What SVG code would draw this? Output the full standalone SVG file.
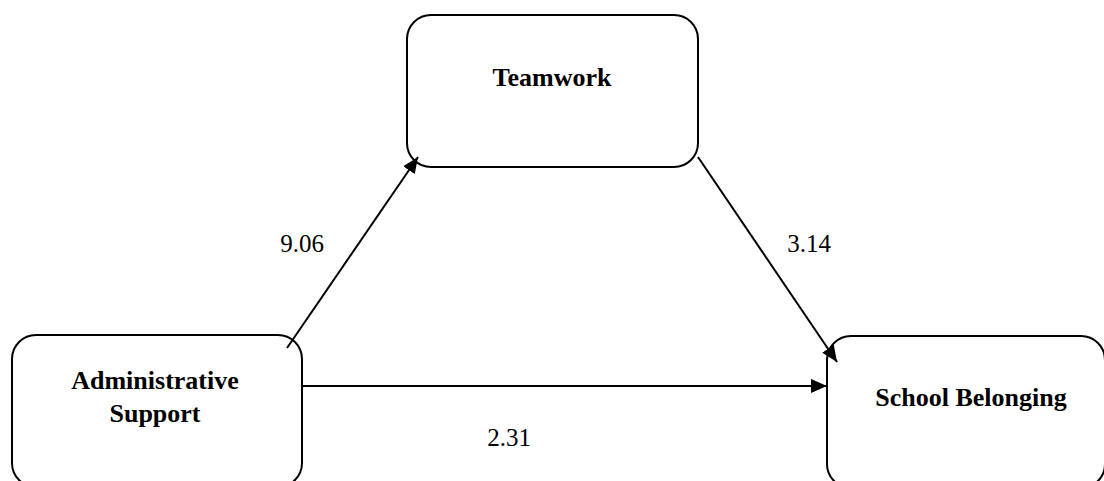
<svg xmlns="http://www.w3.org/2000/svg" width="1104" height="481" viewBox="0 0 1104 481">
<style>
.box{fill:#fff;stroke:#000;stroke-width:2}
.lbl{font-family:"Liberation Serif","Times New Roman",serif;font-weight:bold;font-size:26px;fill:#000;text-anchor:middle}
.num{font-family:"Liberation Serif","Times New Roman",serif;font-size:25px;fill:#000;text-anchor:middle}
.edge{stroke:#000;stroke-width:2;fill:none}
</style>
<defs>
<marker id="ah" markerUnits="userSpaceOnUse" markerWidth="18" markerHeight="14" refX="16" refY="7" orient="auto">
<path d="M0,0 L16,7 L0,14 Z" fill="#000"/>
</marker>
</defs>
<rect width="1104" height="481" fill="#fff"/>
<g id="teamwork">
<rect class="box" x="407" y="15" width="291" height="152" rx="24"/>
<text class="lbl" x="552" y="86">Teamwork</text>
</g>
<g id="admin">
<rect class="box" x="12" y="335" width="290" height="152" rx="24"/>
<text class="lbl" x="155" y="389">Administrative</text>
<text class="lbl" x="155" y="422">Support</text>
</g>
<g id="school">
<rect class="box" x="827" y="336" width="278" height="152" rx="24"/>
<text class="lbl" x="971" y="406">School Belonging</text>
</g>
<g id="connectors">
<line class="edge" x1="287" y1="348" x2="418" y2="157" marker-end="url(#ah)"/>
<line class="edge" x1="698" y1="157" x2="837" y2="362" marker-end="url(#ah)"/>
<line class="edge" x1="302" y1="386" x2="827" y2="386" marker-end="url(#ah)"/>
<text class="num" x="302" y="252">9.06</text>
<text class="num" x="809" y="252">3.14</text>
<text class="num" x="509" y="446">2.31</text>
</g>
</svg>
